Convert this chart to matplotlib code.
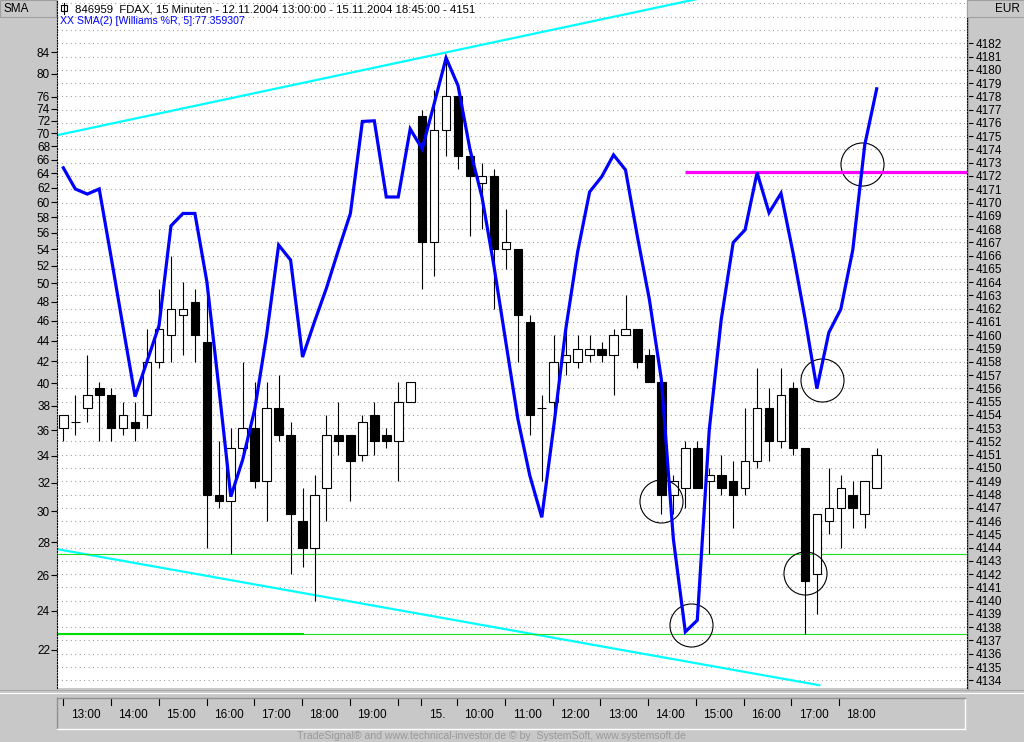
import matplotlib
matplotlib.use("Agg")
import matplotlib.pyplot as plt
from matplotlib.patches import Rectangle
from matplotlib.lines import Line2D
from matplotlib.ticker import FixedLocator, NullLocator, NullFormatter, FuncFormatter

plt.rcParams['font.family'] = ['Liberation Sans', 'DejaVu Sans']

# ---------------- data ----------------
opens = [4153, 4153.5, 4154.5, 4156, 4155.5, 4153, 4153.5, 4154, 4158, 4160,
         4161.5, 4162.5, 4159.5, 4148, 4147.5, 4151.5, 4153, 4149, 4154.5, 4152.5,
         4146, 4144, 4148.5, 4152.5, 4152.5, 4151, 4154, 4152.5, 4152, 4155,
         4176.5, 4167, 4175.5, 4178, 4173.5, 4171.5, 4172, 4166.5, 4166.5, 4161,
         4154.5, 4155, 4158, 4158, 4158.5, 4159, 4158.5, 4160, 4160.5, 4158.5,
         4156.5, 4148, 4148.5, 4151.5, 4149, 4149.5, 4149, 4148.5, 4150.5, 4154.5,
         4152, 4156, 4151.5, 4142, 4146, 4147, 4148, 4146.5, 4148.5]
highs = [4154, 4155.5, 4158.5, 4156.5, 4156, 4155, 4155, 4160.5, 4163.5, 4166,
         4164, 4163.5, 4164, 4152, 4153, 4158, 4156.5, 4156.5, 4157, 4153.5,
         4148.5, 4149.5, 4154, 4155, 4152.5, 4154, 4155, 4153, 4156.5, 4156.5,
         4177, 4178.5, 4181, 4178, 4174, 4173, 4172.5, 4169.5, 4166.5, 4161.5,
         4155.5, 4160, 4161, 4160, 4160, 4159.5, 4160.5, 4163, 4160.5, 4159,
         4156.5, 4149.5, 4152, 4152, 4150, 4151, 4150.5, 4154.5, 4157.5, 4156,
         4157.5, 4156.5, 4151.5, 4146.5, 4150, 4149.5, 4149, 4149, 4151.5]
lows = [4152, 4152.5, 4153.5, 4152, 4152, 4152.5, 4152, 4153, 4157.5, 4158,
        4158.5, 4158, 4144, 4147, 4143.5, 4151, 4148.5, 4146, 4152, 4142,
        4142.5, 4140, 4146, 4151, 4147.5, 4150.5, 4151, 4151.5, 4149, 4155,
        4163.5, 4164.5, 4173.5, 4172.5, 4167.5, 4168, 4162, 4165, 4158, 4152.5,
        4149, 4154, 4157, 4157.5, 4158, 4158, 4155.5, 4160, 4157.5, 4156.5,
        4146.5, 4146.5, 4147, 4148.5, 4143.5, 4148, 4145.5, 4148, 4150, 4150.5,
        4151.5, 4151, 4137.5, 4139, 4145, 4144, 4145.5, 4145.5, 4148.5]
closes = [4154, 4153.5, 4155.5, 4155.5, 4153, 4154, 4153, 4158, 4160.5, 4162,
          4162, 4160, 4148, 4147.5, 4151.5, 4153, 4149, 4154.5, 4152.5, 4146.5,
          4144, 4148, 4152.5, 4152, 4150.5, 4153.5, 4152, 4152, 4155, 4156.5,
          4167, 4175.5, 4178, 4173.5, 4172, 4172, 4166.5, 4167, 4161.5, 4154,
          4154.5, 4158, 4158.5, 4159, 4159, 4158.5, 4160, 4160.5, 4158, 4156.5,
          4148, 4149, 4151.5, 4148.5, 4149.5, 4148.5, 4148, 4150.5, 4154.5, 4152,
          4155.5, 4151.5, 4141.5, 4146.5, 4147, 4148.5, 4147, 4149, 4151]

sma_values = [64.8, 61.8, 61.1, 61.8, 53.0, 45.3, 38.8, 42.0, 45.5, 56.9,
              58.5, 58.5, 50.2, 39.6, 31.0, 33.7, 37.7, 44.6, 54.5, 52.7,
              42.4, 45.9, 49.5, 53.9, 58.5, 71.9, 72.0, 60.7, 60.7, 70.7,
              67.6, 74.8, 82.9, 77.9, 67.5, 60.7, 52.0, 43.8, 36.9, 32.5,
              29.6, 36.3, 45.1, 53.7, 61.4, 63.5, 66.7, 64.5, 55.5, 48.2,
              40.3, 28.2, 22.9, 23.5, 36.0, 46.1, 54.8, 56.4, 64.1, 58.6,
              61.2, 53.6, 46.3, 39.5, 44.8, 47.2, 53.9, 68.2, 77.36]

sma_ticks = [22, 24, 26, 28, 30, 32, 34, 36, 38, 40, 42, 44, 46, 48, 50, 52, 54,
             56, 58, 60, 62, 64, 66, 68, 70, 72, 74, 76, 80, 84]
price_ticks = list(range(4134, 4183))

hour_tick_bars = [0, 4, 8, 12, 16, 20, 24, 28, 30, 33, 37, 41, 45, 49, 53, 57, 61, 65]
hour_tick_labels = ['13:00', '14:00', '15:00', '16:00', '17:00', '18:00', '19:00', '',
                    '15.', '10:00', '11:00', '12:00', '13:00', '14:00', '15:00',
                    '16:00', '17:00', '18:00']

upper_trend_bars = [-0.5, 60.0]
upper_trend_prices = [4175.08, 4186.68]
lower_trend_bars = [-0.5, 63.2]
lower_trend_prices = [4143.88, 4133.63]
support_prices = [4143.5, 4137.5]
green_segment_bars = [-0.5, 20.0]
magenta_level = 64.2
magenta_start_bar = 52
circle_bars = [50.0, 52.5, 63.45, 62.0, 66.75]
circle_prices = [4147.5, 4138.2, 4156.6, 4142.1, 4172.9]

title_text = "846959  FDAX, 15 Minuten - 12.11.2004 13:00:00 - 15.11.2004 18:45:00 - 4151"
sub_text = "XX SMA(2) [Williams %R, 5]:77.359307"
footer_text = "TradeSignal\u00ae and www.technical-investor.de \u00a9 by  SystemSoft, www.systemsoft.de"

# ---------------- layout ----------------
W, H = 1024, 742
BG = '#c8c8c8'
fig = plt.figure(figsize=(W / 100, H / 100), dpi=100, facecolor=BG)


def rect(x0, y0, x1, y1):
    return [x0 / W, 1 - y1 / H, (x1 - x0) / W, (y1 - y0) / H]


def fx(x):
    return x / W


def fy(y):
    return 1 - y / H


XLIM = (-0.53, 75.55)

ax = fig.add_axes(rect(57, 0, 967, 688), facecolor='white')
ax2 = ax.twinx()

ax.set_xlim(*XLIM)
ax.set_ylim(4133.42, 4185.26)

# grid
for p in range(4134, 4186):
    ax.axhline(p, color='#8c8c8c', lw=0.8, ls=(0, (0.8, 3.2)), zorder=0.5)

# trend lines / support
ax.plot(upper_trend_bars, upper_trend_prices, color='#00ffff', lw=1.6, zorder=1)
ax.plot(lower_trend_bars, lower_trend_prices, color='#00ffff', lw=1.6, zorder=1)
for sp in support_prices:
    ax.axhline(sp, color='#22dd22', lw=0.8, zorder=1)
ax.plot(green_segment_bars, [support_prices[1]] * 2, color='#00dd00', lw=1.5, zorder=1.1)

# candles
bw = 0.72
for i in range(len(opens)):
    o, h, l, c = opens[i], highs[i], lows[i], closes[i]
    ax.vlines(i, l, h, color='black', lw=0.8, zorder=2)
    if c > o:
        ax.add_patch(Rectangle((i - bw / 2, o), bw, c - o, facecolor='white',
                               edgecolor='black', lw=0.8, zorder=3))
    elif c < o:
        ax.add_patch(Rectangle((i - bw / 2, c), bw, o - c, facecolor='black',
                               edgecolor='black', lw=0.8, zorder=3))
    else:
        ax.hlines(o, i - bw / 2, i + bw / 2, color='black', lw=0.8, zorder=3)

# circles
ax.plot(circle_bars, circle_prices, ls='none', marker='o', markersize=31,
        markerfacecolor='none', markeredgecolor='black', markeredgewidth=0.8, zorder=6)

# price axis (right)
ax.yaxis.tick_right()
ax.yaxis.set_label_position('right')
ax.yaxis.set_major_locator(FixedLocator(price_ticks))
ax.yaxis.set_major_formatter(FuncFormatter(lambda v, p: f"{int(round(v))}"))
ax.tick_params(axis='y', which='both', left=False, labelleft=False, right=True, labelright=True)
ax.tick_params(axis='y', which='major', length=4, width=0.8, pad=2, labelsize=8.5,
               colors='black', direction='out')
ax.set_xticks([])
for s in ['top', 'bottom', 'left']:
    ax.spines[s].set_visible(False)
ax.spines['right'].set_linestyle((0, (1, 1.5)))
ax.spines['right'].set_linewidth(0.8)

# SMA axis (left, log)
ax2.set_xlim(*XLIM)
ax2.set_yscale('log')
ax2.set_ylim(20.19, 94.4)
ax2.plot(range(len(sma_values)), sma_values, color='#0000ff', lw=2.3, zorder=5,
         solid_joinstyle='miter')
ax2.hlines(magenta_level, magenta_start_bar, XLIM[1], color='#ff00ff', lw=2.3, zorder=4)
ax2.yaxis.set_major_locator(FixedLocator(sma_ticks))
ax2.yaxis.set_major_formatter(FuncFormatter(lambda v, p: f"{int(round(v))}"))
ax2.yaxis.set_minor_locator(NullLocator())
ax2.yaxis.set_minor_formatter(NullFormatter())
ax2.yaxis.set_label_position('left')
ax2.tick_params(axis='y', which='both', left=True, labelleft=True, right=False, labelright=False)
ax2.tick_params(axis='y', which='major', length=4, width=0.8, pad=1, labelsize=8.5,
                colors='black', direction='out')
for s in ['top', 'bottom', 'right']:
    ax2.spines[s].set_visible(False)
ax2.spines['left'].set_linestyle((0, (1, 1.5)))
ax2.spines['left'].set_linewidth(0.8)

# header texts inside plot
fig.text(fx(75), fy(9), title_text, fontsize=8.2, color='black', va='center', ha='left')
fig.text(fx(60), fy(21), sub_text, fontsize=7.6, color='#0000ff', va='center', ha='left')
# candle icon
fig.patches.append(Rectangle((fx(61), fy(11)), fx(6), fy(5) - fy(11), transform=fig.transFigure,
                             facecolor='white', edgecolor='black', lw=0.8))
fig.lines.append(Line2D([fx(64), fx(64)], [fy(3), fy(14)], transform=fig.transFigure,
                        color='black', lw=0.8))

# top-left / top-right boxes
for (x0, x1, label, ha, tx) in [(0, 56, 'SMA', 'left', 3), (967, 1024, 'EUR', 'right', 1020)]:
    fig.patches.append(Rectangle((fx(x0), fy(17)), fx(x1 - x0), fy(0) - fy(17),
                                 transform=fig.transFigure, facecolor=BG,
                                 edgecolor='#a0a0a0', lw=0.8))
    fig.text(fx(tx), fy(9), label, fontsize=8.5, ha=ha, va='center', color='black')

# separators
fig.lines.append(Line2D([0, 1], [fy(690), fy(690)], transform=fig.transFigure, color='#a8a8a8', lw=0.8))
fig.lines.append(Line2D([0, 1], [fy(692.5), fy(692.5)], transform=fig.transFigure, color='white', lw=0.8))
fig.lines.append(Line2D([fx(967.5), fx(967.5)], [fy(18), fy(689)], transform=fig.transFigure,
                        color='#a0a0a0', lw=0.8))

# time panel
axt = fig.add_axes(rect(57, 698, 965, 729), facecolor=BG)
axt.set_xlim(*XLIM)
axt.set_ylim(0, 1)
axt.set_xticks([])
axt.set_yticks([])
axt.spines['top'].set_color('#909090')
axt.spines['left'].set_color('#909090')
axt.spines['bottom'].set_color('white')
axt.spines['right'].set_color('white')
for s in axt.spines.values():
    s.set_linewidth(1.0)
next_ticks = hour_tick_bars[1:] + [len(opens)]
for b, nb, lab in zip(hour_tick_bars, next_ticks, hour_tick_labels):
    axt.plot([b, b], [1.0, 0.78], color='black', lw=0.8, clip_on=False)
    if lab:
        axt.text((b + nb) / 2 - 0.15, 0.45, lab, fontsize=8.5, ha='center', va='center', color='black')

fig.text(fx(491), fy(736), footer_text, fontsize=7.6, color='#9a9a9a', ha='center', va='center')

fig.savefig('out.png', dpi=100, facecolor=BG)
